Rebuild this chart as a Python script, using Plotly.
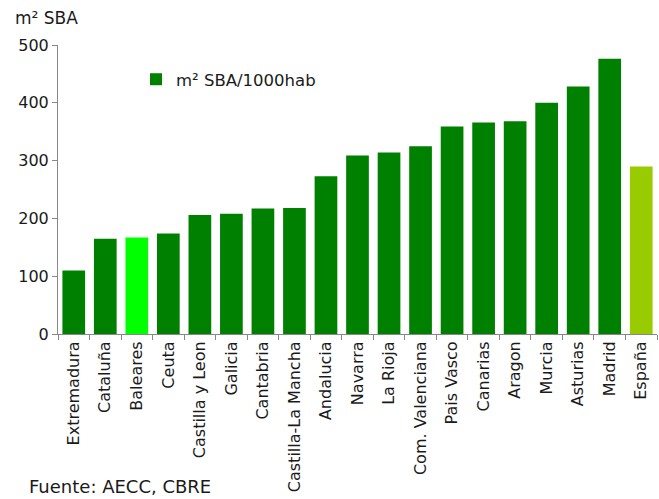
import plotly.graph_objects as go

categories = ["Extremadura", "Cataluña", "Baleares", "Ceuta", "Castilla y Leon", "Galicia",
              "Cantabria", "Castilla-La Mancha", "Andalucia", "Navarra", "La Rioja",
              "Com. Valenciana", "Pais Vasco", "Canarias", "Aragon", "Murcia", "Asturias",
              "Madrid", "España"]
values = [110, 165, 167, 174, 206, 208, 217, 218, 273, 309, 314, 325, 359, 366, 368, 400, 428, 476, 290]
bar_colors = ["#008000"] * 19
bar_colors[2] = "#00FF00"
bar_colors[18] = "#99CC00"

FONT = "DejaVu Sans"
TXT = "#1a1a1a"

L, R, T, B = 58, 2, 45, 165
W, H = 659, 499
plot_w = W - L - R
plot_h = H - T - B

fig = go.Figure()
fig.add_trace(go.Bar(x=categories, y=values, marker=dict(color=bar_colors, line=dict(width=0)),
                     name="m² SBA/1000hab", showlegend=True))

fig.update_layout(
    width=W, height=H,
    margin=dict(l=L, r=R, t=T, b=B),
    paper_bgcolor="white", plot_bgcolor="white",
    bargap=0.28,
    font=dict(family=FONT, size=16, color=TXT),
    legend=dict(x=(136 - L) / plot_w, y=(H - B - 62) / plot_h, xanchor="left", yanchor="top",
                bgcolor="rgba(0,0,0,0)", itemwidth=30,
                font=dict(family=FONT, size=16.5, color=TXT)),
    xaxis=dict(tickangle=-90, showline=True, linecolor="#888888", linewidth=1,
               ticks="outside", ticklen=5, tickcolor="#888888", tickson="boundaries",
               tickfont=dict(family=FONT, size=16, color=TXT)),
    yaxis=dict(range=[0, 500], dtick=100, showline=True, linecolor="#888888", linewidth=1,
               ticks="outside", ticklen=5, tickcolor="#888888", showgrid=False, zeroline=False,
               tickfont=dict(family=FONT, size=16, color=TXT)),
    annotations=[
        dict(text="m² SBA", x=(13 - L) / plot_w, y=(H - B - 30) / plot_h, xref="paper", yref="paper",
             showarrow=False, xanchor="left", yanchor="bottom",
             font=dict(family=FONT, size=17, color=TXT)),
        dict(text="Fuente: AECC, CBRE", x=(27 - L) / plot_w, y=(H - B - 474) / plot_h,
             xref="paper", yref="paper", showarrow=False, xanchor="left", yanchor="top",
             font=dict(family=FONT, size=18, color=TXT)),
    ],
)

fig.write_html("out.html")
